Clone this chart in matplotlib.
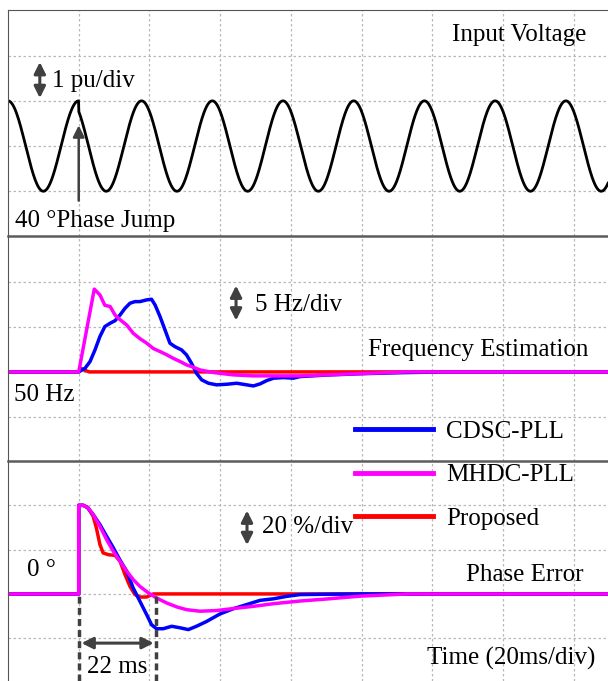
import numpy as np
import matplotlib
matplotlib.use("Agg")
import matplotlib.pyplot as plt

plt.rcParams["font.family"] = ["Liberation Serif", "DejaVu Serif"]

# input voltage: 1 pu, 50 Hz, +40 deg phase jump at t = 20 ms
v_amp = 1.0
v_freq = 50.0
jump_t = 20.0
jump_deg = 40.0

# frequency estimation, deviation from 50 Hz (Hz) vs time (ms)
f_cdsc_t = [0, 20, 21.8, 23.2, 24.6, 26.0, 27.4, 28.9, 30.3, 31.7, 33.1, 34.5, 35.9, 37.3,
            39.2, 40.6, 41.6, 43.0, 44.4, 45.8, 47.2, 49.1, 50.5, 51.9, 53.3, 54.8, 56.7,
            59.0, 61.9, 64.7, 67.5, 69.4, 71.3, 73.2, 75.1, 77.9, 80.7, 82.6, 90, 100, 112,
            124, 170]
f_cdsc = [0, 0, 0.41, 1.15, 2.44, 3.93, 5.04, 5.41, 5.7, 6.33, 7.07, 7.63, 7.81, 7.81,
          8.0, 8.07, 7.44, 6.15, 4.67, 3.19, 2.81, 2.44, 1.89, 0.96, -0.15, -0.89, -1.26,
          -1.44, -1.37, -1.26, -1.44, -1.56, -1.33, -0.96, -0.7, -0.63, -0.7, -0.52, -0.35,
          -0.2, -0.08, 0, 0]
f_mhdc_t = [0, 20, 24.4, 26.0, 27.4, 28.9, 30.3, 31.7, 33.6, 35.4, 37.3, 39.2, 41.1, 43.0,
            44.9, 46.8, 48.7, 50.5, 52.4, 54.3, 58.1, 63.7, 69.4, 82.6, 95, 113, 170]
f_mhdc = [0, 0, 9.2, 8.55, 7.4, 7.26, 6.3, 5.8, 5.2, 4.3, 3.7, 3.2, 2.6, 2.26,
          1.9, 1.5, 1.15, 0.78, 0.52, 0.22, -0.07, -0.33, -0.44, -0.44, -0.25, 0, 0]
f_prop_t = [0, 20, 20.6, 21.6, 23, 170]
f_prop = [0, 0, 0.4, 0.2, 0, 0]

# phase error (deg) vs time (ms)
p_cdsc_t = [0, 20, 20, 21.3, 22.4, 24.1, 26.0, 27.9, 29.8, 31.7, 33.6, 35.4, 37.3, 39.2,
            40.6, 42.0, 43.9, 46.3, 48.7, 51.0, 53.3, 56.2, 60.0, 63.7, 67.5, 71.3, 75.1,
            78.8, 82.6, 92, 100, 170]
p_cdsc = [0, 0, 40, 40, 39.1, 35.8, 31.3, 26, 20.8, 15.2, 10.2, 2.7, -3.3, -9.3,
          -13.9, -15.7, -15.7, -14.6, -15.3, -16.1, -14.6, -12.4, -9.0, -6.7, -4.8, -2.9, -2.2,
          -1.1, -0.3, -0.1, 0, 0]
p_mhdc_t = [0, 20, 20, 21.3, 22.7, 24.1, 26.0, 27.9, 29.8, 31.7, 33.6, 35.4, 37.3, 39.7,
            42.0, 44.9, 47.8, 50.5, 54.3, 59.0, 63.7, 69.4, 75.1, 82.6, 90, 99.6, 113, 170]
p_mhdc = [0, 0, 40, 40, 38.8, 35.8, 30.5, 24.5, 19.2, 14.7, 10.2, 6.5, 3.4, 0.45,
          -1.8, -4.1, -5.9, -7.1, -7.8, -7.5, -6.6, -5.6, -4.4, -3.2, -2.3, -1.0, 0, 0]
p_prop_t = [0, 20, 20, 21.3, 22.7, 24.1, 25.0, 26.0, 26.9, 28.4, 30.3, 31.7, 33.1, 34.5,
            35.9, 37.3, 39.2, 41.1, 170]
p_prop = [0, 0, 40, 40, 38.8, 35, 29.8, 22.3, 18.5, 17.7, 17.4, 14.7, 8.7, 3.4,
          -0.3, -1.4, -1.4, 0, 0]

settle_ms = 22
labels = ["CDSC-PLL", "MHDC-PLL", "Proposed"]
colors = ["#0000ff", "#ff00ff", "#ff0000"]

W, H = 608, 681
fig = plt.figure(figsize=(W / 100, H / 100), dpi=100)


def panel(top, bottom):
    ax = fig.add_axes([8 / W, (H - bottom) / H, 600 / W, (bottom - top) / H])
    ax.patch.set_visible(False)
    ax.set_xlim(0, 169.7)
    ax.set_xticks(np.arange(20, 170, 20))
    ax.tick_params(length=0, labelbottom=False, labelleft=False)
    ax.grid(True, color="#b8b8b8", linestyle=(0, (2, 2)), linewidth=0.9)
    ax.spines["right"].set_visible(False)
    ax.spines["top"].set_visible(False)
    ax.spines["left"].set_color("#555555")
    ax.spines["bottom"].set_color("#5c5c5c")
    ax.spines["bottom"].set_linewidth(1.8)
    return ax


ax1 = panel(10, 236)
ax2 = panel(236, 461)
ax3 = panel(461, 681)
ax1.spines["top"].set_visible(True)
ax1.spines["top"].set_color("#555555")
ax3.spines["bottom"].set_visible(False)

fs = 18
arrow_kw = dict(arrowstyle="<|-|>", color="#404040", lw=2.2, mutation_scale=17)

# panel 1: input voltage
t = np.linspace(0, 169.7, 2000)
phase = np.where(t < jump_t, 0, np.deg2rad(jump_deg))
v = v_amp * np.cos(2 * np.pi * v_freq * t / 1000 + phase)
ax1.plot(t, v, color="black", lw=2)
ax1.set_ylim(-1.99, 3.01)
ax1.set_yticks([-1, 0, 1, 2])
ax1.text(125.6, 2.45, "Input Voltage", fontsize=fs, va="center")
ax1.annotate("", xy=(9.0, 1.0), xytext=(9.0, 1.92), arrowprops=arrow_kw)
ax1.text(12.4, 1.45, "1 pu/div", fontsize=fs, va="center")
ax1.annotate("", xy=(jump_t, 0.52), xytext=(jump_t, -1.27),
             arrowprops=dict(arrowstyle="-|>", color="#404040", lw=1.8, mutation_scale=17))
ax1.text(2.0, -1.65, "40 \u00b0Phase Jump", fontsize=fs, va="center")

# panel 2: frequency estimation
ax2.plot(f_prop_t, f_prop, color=colors[2], lw=2.5)
ax2.plot(f_cdsc_t, f_cdsc, color=colors[0], lw=2.5)
ax2.plot(f_mhdc_t, f_mhdc, color=colors[1], lw=2.5)
ax2.set_ylim(-9.9, 15.1)
ax2.set_yticks([-5, 0, 5, 10])
ax2.annotate("", xy=(64.5, 5.4), xytext=(64.5, 9.9), arrowprops=arrow_kw)
ax2.text(69.9, 7.4, "5 Hz/div", fontsize=fs, va="center")
ax2.text(1.7, -2.6, "50 Hz", fontsize=fs, va="center")
ax2.text(101.8, 2.4, "Frequency Estimation", fontsize=fs, va="center")

# panel 3: phase error
l_p, = ax3.plot(p_prop_t, p_prop, color=colors[2], lw=2.5)
l_c, = ax3.plot(p_cdsc_t, p_cdsc, color=colors[0], lw=2.5)
l_m, = ax3.plot(p_mhdc_t, p_mhdc, color=colors[1], lw=2.5)
ax3.set_ylim(-39.3, 60)
ax3.set_yticks([-20, 0, 20, 40])
ax3.annotate("", xy=(67.6, 20.8), xytext=(67.6, 38.9), arrowprops=arrow_kw)
ax3.text(71.9, 30.3, "20 %/div", fontsize=fs, va="center")
ax3.text(5.4, 10.9, "0 \u00b0", fontsize=fs, va="center")
ax3.text(129.6, 8.6, "Phase Error", fontsize=fs, va="center")
ax3.text(118.5, -29, "Time (20ms/div)", fontsize=fs, va="center")
ax3.vlines([jump_t, jump_t + settle_ms], -39.3, 0, colors="#404040",
           linestyles=(0, (2, 1.2)), lw=2.5)
ax3.annotate("", xy=(jump_t, -22.2), xytext=(jump_t + settle_ms, -22.2), arrowprops=arrow_kw)
ax3.text(jump_t + settle_ms / 2, -33, "%d ms" % settle_ms, fontsize=fs, va="center", ha="center")

leg = fig.legend([l_c, l_m, l_p], labels, loc="upper left",
                 bbox_to_anchor=(355 / W, 1 - 420 / H), frameon=False, fontsize=fs,
                 handlelength=3.1, handletextpad=0.55, labelspacing=0.85,
                 borderpad=0, borderaxespad=0)
for h in leg.get_lines():
    h.set_linewidth(3.5)

fig.savefig("out.png", dpi=100)
